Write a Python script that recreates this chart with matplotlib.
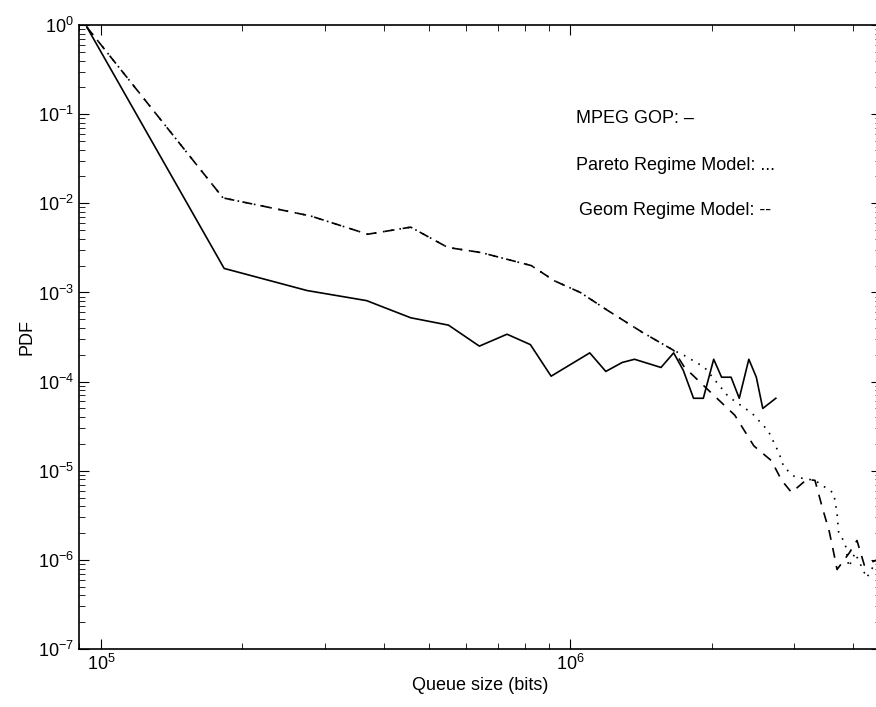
import matplotlib
matplotlib.use("Agg")
import matplotlib.pyplot as plt
import numpy as np

plt.rcParams['font.family'] = ['Liberation Sans', 'DejaVu Sans']

# MPEG GOP trace (solid)
mpeg_x = [9.33e4, 1.83e5, 2.75e5, 3.68e5, 4.57e5, 5.5e5, 6.4e5, 7.33e5, 8.22e5, 9.1e5,
          1.1e6, 1.19e6, 1.29e6, 1.37e6, 1.56e6, 1.66e6, 1.74e6, 1.83e6, 1.92e6, 2.02e6,
          2.1e6, 2.2e6, 2.29e6, 2.4e6, 2.49e6, 2.57e6, 2.74e6]
mpeg_y = [0.95, 1.86e-3, 1.05e-3, 8.1e-4, 5.2e-4, 4.3e-4, 2.5e-4, 3.4e-4, 2.6e-4, 1.15e-4,
          2.1e-4, 1.3e-4, 1.64e-4, 1.78e-4, 1.44e-4, 2.1e-4, 1.34e-4, 6.5e-5, 6.5e-5, 1.78e-4,
          1.12e-4, 1.12e-4, 6.5e-5, 1.78e-4, 1.12e-4, 5.0e-5, 6.5e-5]

# common part of both models
common_x = [9.33e4, 1.82e5, 2.8e5, 3.7e5, 4.57e5, 5.48e5, 6.46e5, 8.26e5, 9.25e5,
            1.05e6, 1.2e6, 1.42e6, 1.66e6]
common_y = [0.95, 1.15e-2, 7.2e-3, 4.5e-3, 5.4e-3, 3.2e-3, 2.8e-3, 2.0e-3, 1.35e-3,
            1.0e-3, 6.3e-4, 3.6e-4, 2.24e-4]

pareto_x = common_x + [1.75e6, 1.93e6, 2.17e6, 2.44e6, 2.64e6, 2.78e6, 2.85e6, 3.01e6,
                       3.32e6, 3.64e6, 3.7e6, 3.73e6, 3.85e6, 3.92e6, 4.04e6, 4.28e6, 4.5e6]
pareto_y = common_y + [1.96e-4, 1.45e-4, 6.8e-5, 4.4e-5, 2.8e-5, 1.6e-5, 1.1e-5, 8.5e-6,
                       7.8e-6, 5.6e-6, 3.3e-6, 2.0e-6, 1.55e-6, 8.3e-7, 1.2e-6, 6.3e-7, 1.0e-6]

geom_x = common_x + [1.75e6, 1.95e6, 2.24e6, 2.46e6, 2.68e6, 2.82e6, 2.96e6, 3.19e6,
                     3.32e6, 3.44e6, 3.56e6, 3.64e6, 3.7e6, 3.93e6, 4.08e6, 4.23e6, 4.5e6]
geom_y = common_y + [1.45e-4, 8.4e-5, 4.2e-5, 1.9e-5, 1.3e-5, 7.8e-6, 5.7e-6, 8.0e-6,
                     7.8e-6, 3.9e-6, 2.1e-6, 1.2e-6, 7.8e-7, 1.2e-6, 1.65e-6, 8.7e-7, 1.0e-6]

fig = plt.figure(figsize=(8.76, 7.07), dpi=100)
ax = fig.add_axes([0.0902, 0.082, 0.915, 0.8826])

ax.loglog(mpeg_x, mpeg_y, color='k', lw=1.2, ls='-')
ax.loglog(pareto_x, pareto_y, color='k', lw=1.2, ls=(0, (1, 4)))
ax.loglog(geom_x, geom_y, color='k', lw=1.2, ls=(0, (6, 5)))

ax.set_xlim(8.98e4, 4.58e6)
ax.set_ylim(1e-7, 1)
ax.set_xticks([1e5, 1e6])
ax.set_yticks([10.0**k for k in range(-7, 1)])
ax.tick_params(which='both', direction='in', labelsize=13, top=True, right=True)
ax.tick_params(which='major', length=7)
ax.tick_params(which='minor', length=4)
for s in ax.spines.values():
    s.set_linewidth(1.2)

ax.set_xlabel('Queue size (bits)', fontsize=13, labelpad=2)
ax.set_ylabel('PDF', fontsize=13, labelpad=2)

fig.text(0.6575, 0.8317, 'MPEG GOP: \u2013', fontsize=13, va='center')
fig.text(0.6575, 0.7666, 'Pareto Regime Model: ...', fontsize=13, va='center')
fig.text(0.661, 0.7016, 'Geom Regime Model: --', fontsize=13, va='center')

fig.savefig('out.png', dpi=100)
